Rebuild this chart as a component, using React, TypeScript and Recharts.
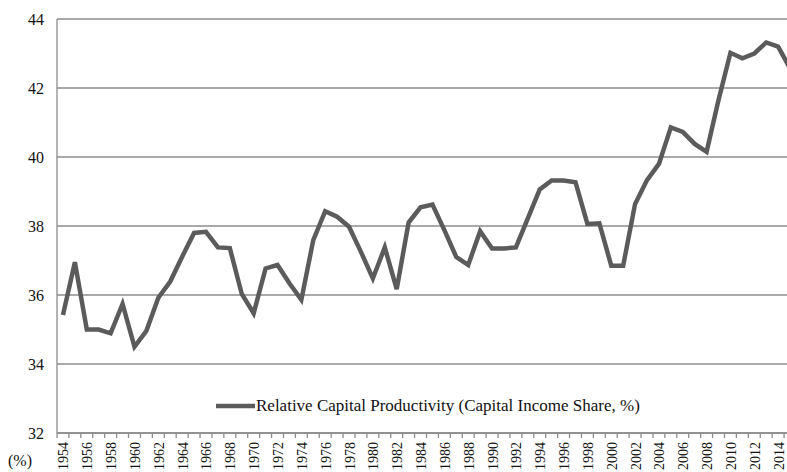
import { LineChart, Line, XAxis, YAxis, CartesianGrid } from "recharts";

const years = [
  1954, 1955, 1956, 1957, 1958, 1959, 1960, 1961, 1962, 1963, 1964, 1965, 1966,
  1967, 1968, 1969, 1970, 1971, 1972, 1973, 1974, 1975, 1976, 1977, 1978, 1979,
  1980, 1981, 1982, 1983, 1984, 1985, 1986, 1987, 1988, 1989, 1990, 1991, 1992,
  1993, 1994, 1995, 1996, 1997, 1998, 1999, 2000, 2001, 2002, 2003, 2004, 2005,
  2006, 2007, 2008, 2009, 2010, 2011, 2012, 2013, 2014, 2015,
];

// relative capital productivity (capital income share, %)
const capitalShare = [
  35.42, 36.95, 35.0, 35.0, 34.89, 35.74, 34.5, 34.96, 35.92, 36.39, 37.11,
  37.8, 37.83, 37.38, 37.36, 36.03, 35.47, 36.77, 36.87, 36.34, 35.86, 37.59,
  38.43, 38.27, 37.98, 37.25, 36.48, 37.38, 36.17, 38.1, 38.54, 38.62, 37.88,
  37.1, 36.87, 37.85, 37.35, 37.35, 37.38, 38.22, 39.06, 39.32, 39.32, 39.27,
  38.06, 38.08, 36.85, 36.85, 38.64, 39.33, 39.8, 40.86, 40.73, 40.38, 40.15,
  41.65, 43.02, 42.86, 43.0, 43.32, 43.2, 42.57,
];

const yTicks = [32, 34, 36, 38, 40, 42, 44];

const seriesName = "Relative Capital Productivity (Capital Income Share, %)";

const data = years.map((y, i) => ({ year: y, value: capitalShare[i] }));

const CHART_W = 800;
const PLOT_LEFT = 57;
const MARGIN_RIGHT = 4;
const BAND = (CHART_W - PLOT_LEFT - MARGIN_RIGHT) / years.length;

const FONT = "'Liberation Serif', 'Times New Roman', serif";
const LINE_COLOR = "#5b5b5b";
const GRID_COLOR = "#8c8c8c";

// tick marks sit between years (excel style), labels every other year
const YearTick = (props: any) => {
  const { x, y, payload, index } = props;
  const left = x - BAND / 2;
  const showLabel = payload.value % 2 === 0;
  return (
    <g>
      <line x1={left} y1={y} x2={left} y2={y + 5} stroke={GRID_COLOR} strokeWidth={1.3} />
      {index === years.length - 1 && (
        <line x1={x + BAND / 2} y1={y} x2={x + BAND / 2} y2={y + 5} stroke={GRID_COLOR} strokeWidth={1.3} />
      )}
      {showLabel && (
        <text
          x={x + 1}
          y={y + 9}
          transform={`rotate(-90, ${x + 1}, ${y + 9})`}
          textAnchor="end"
          dominantBaseline="central"
          fontFamily={FONT}
          fontSize={14}
          fill="#111"
        >
          {payload.value}
        </text>
      )}
    </g>
  );
};

export default function App() {
  return (
    <div style={{ width: 787, height: 472, overflow: "hidden", position: "relative", background: "#fff" }}>
      <style>{`body{margin:0;}`}</style>
      <LineChart
        width={CHART_W}
        height={472}
        data={data}
        margin={{ top: 19, right: MARGIN_RIGHT, left: 0, bottom: 0 }}
      >
        <CartesianGrid vertical={false} stroke={GRID_COLOR} strokeWidth={1.3} />
        <XAxis
          dataKey="year"
          interval={0}
          height={39}
          padding={{ left: BAND / 2, right: BAND / 2 }}
          axisLine={{ stroke: GRID_COLOR, strokeWidth: 1.3 }}
          tickLine={false}
          tickSize={0}
          tickMargin={0}
          tick={<YearTick />}
        />
        <YAxis
          domain={[32, 44]}
          ticks={yTicks}
          width={PLOT_LEFT}
          axisLine={{ stroke: GRID_COLOR, strokeWidth: 1.3 }}
          tickLine={false}
          tickMargin={7}
          tick={{ fontFamily: FONT, fontSize: 16, fill: "#111" }}
        />
        <Line
          type="linear"
          dataKey="value"
          name={seriesName}
          stroke={LINE_COLOR}
          strokeWidth={4.5}
          dot={false}
          isAnimationActive={false}
        />
      </LineChart>
      <div
        style={{
          position: "absolute",
          left: 216,
          top: 396,
          display: "flex",
          alignItems: "center",
          fontFamily: FONT,
          fontSize: 17,
          color: "#111",
          whiteSpace: "nowrap",
        }}
      >
        <svg width={39} height={10} style={{ marginRight: 1 }}>
          <line x1={0} y1={5} x2={39} y2={5} stroke={LINE_COLOR} strokeWidth={4.5} />
        </svg>
        <span>{seriesName}</span>
      </div>
      <div style={{ position: "absolute", left: 8, top: 452, fontFamily: FONT, fontSize: 16, color: "#111" }}>
        (%)
      </div>
    </div>
  );
}
